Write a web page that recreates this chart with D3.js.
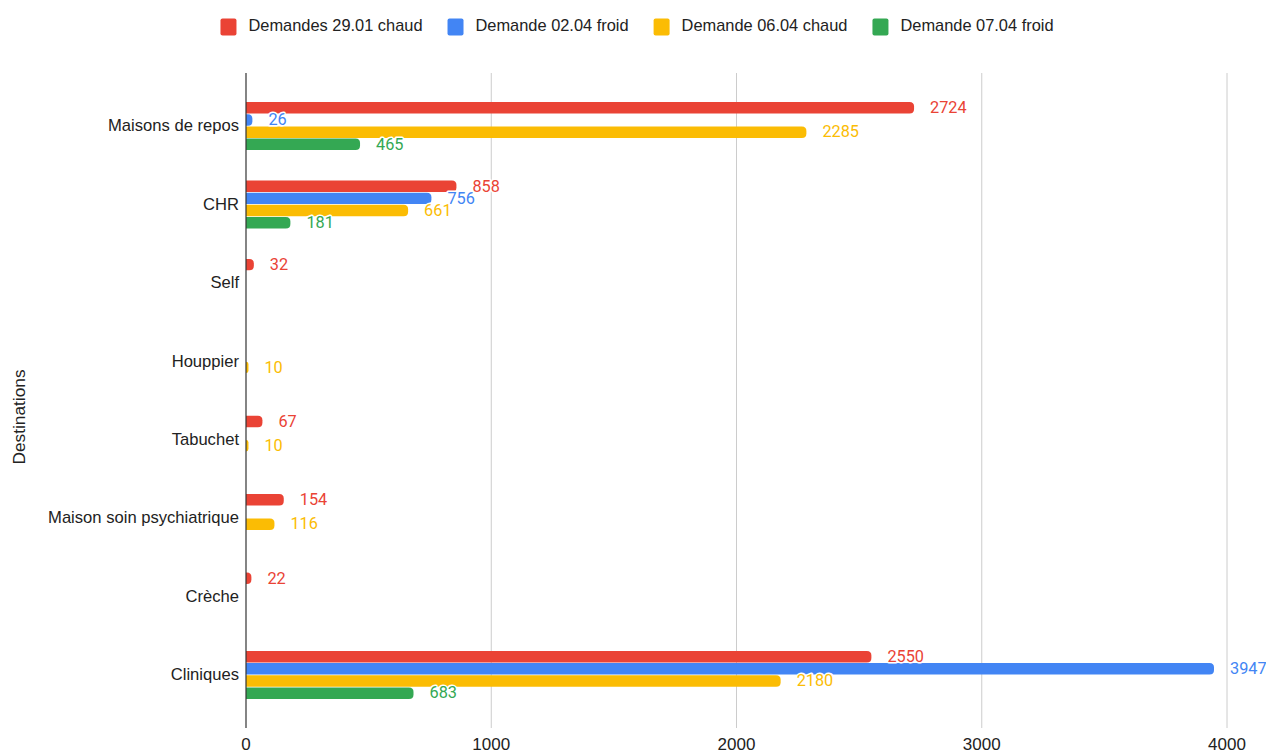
<!DOCTYPE html>
<html>
<head>
<meta charset="utf-8">
<script src="https://cdn.jsdelivr.net/npm/d3@7"></script>
<style>
  html, body { margin: 0; padding: 0; background: #fff; }
  svg { display: block; font-family: "Liberation Sans", Arial, sans-serif; }
  .value { font-family: Roboto, "Noto Sans", sans-serif; }
</style>
</head>
<body>
<svg id="chart" width="1266" height="755"></svg>
<script>
// Destinations and weekly demand series
const categories = ["Maisons de repos", "CHR", "Self", "Houppier", "Tabuchet",
                    "Maison soin psychiatrique", "Crèche", "Cliniques"];
const seriesNames = ["Demandes 29.01 chaud", "Demande 02.04 froid",
                     "Demande 06.04 chaud", "Demande 07.04 froid"];
const seriesColors = ["#EA4335", "#4285F4", "#FBBC04", "#34A853"];
const demand2901Chaud = [2724, 858, 32, null, 67, 154, 22, 2550];
const demand0204Froid = [26, 756, null, null, null, null, null, 3947];
const demand0604Chaud = [2285, 661, null, 10, 10, 116, null, 2180];
const demand0704Froid = [465, 181, null, null, null, null, null, 683];
const xTicks = [0, 1000, 2000, 3000, 4000];
const axisTitle = "Destinations";

const seriesValues = [demand2901Chaud, demand0204Froid, demand0604Chaud, demand0704Froid];

const svg = d3.select("#chart");
const plot = { left: 246, right: 1227, top: 73, bottom: 728 };

const x = d3.scaleLinear().domain([0, 4000]).range([plot.left, plot.right]);
const y = d3.scaleBand().domain(categories).range([plot.top, plot.bottom])
  .paddingInner(0.388).paddingOuter(0.371);
const ySub = d3.scaleBand().domain(d3.range(seriesNames.length))
  .range([0, y.bandwidth()]).paddingInner(0.06);

// Vertical gridlines
svg.append("g").selectAll("line").data(xTicks.filter(t => t > 0)).join("line")
  .attr("x1", d => x(d)).attr("x2", d => x(d))
  .attr("y1", plot.top).attr("y2", plot.bottom)
  .attr("stroke", "#cccccc").attr("stroke-width", 1);

// Tick labels along the bottom
svg.append("g").selectAll("text").data(xTicks).join("text")
  .attr("x", d => x(d)).attr("y", 746)
  .attr("text-anchor", "middle").attr("dominant-baseline", "middle")
  .attr("font-size", 17).attr("fill", "#222")
  .text(d => d);

// Bar shape: square at the baseline, rounded at the value end
function barPath(x0, x1, y0, h) {
  const w = x1 - x0;
  const r = Math.min(4.5, w, h / 2);
  return `M${x0},${y0}H${x1 - r}Q${x1},${y0} ${x1},${y0 + r}` +
         `V${y0 + h - r}Q${x1},${y0 + h} ${x1 - r},${y0 + h}H${x0}Z`;
}

const cells = [];
categories.forEach((c, ci) => {
  seriesValues.forEach((vals, si) => {
    if (vals[ci] != null) cells.push({ cat: c, s: si, v: vals[ci] });
  });
});

svg.append("g").selectAll("path").data(cells).join("path")
  .attr("d", d => barPath(x(0), x(d.v), y(d.cat) + ySub(d.s), ySub.bandwidth()))
  .attr("fill", d => seriesColors[d.s]);

// Value labels with a white halo
svg.append("g").selectAll("text").data(cells).join("text")
  .attr("class", "value")
  .attr("x", d => x(d.v) + 16)
  .attr("y", d => y(d.cat) + ySub(d.s) + ySub.bandwidth() / 2 + 1)
  .attr("dominant-baseline", "middle")
  .attr("font-size", 16.3)
  .attr("fill", d => seriesColors[d.s])
  .attr("stroke", "#fff").attr("stroke-width", 3).attr("stroke-linejoin", "round")
  .attr("paint-order", "stroke")
  .text(d => d.v);

// Baseline axis
svg.append("line")
  .attr("x1", x(0)).attr("x2", x(0)).attr("y1", plot.top).attr("y2", plot.bottom)
  .attr("stroke", "#333").attr("stroke-width", 1.2);

// Category labels
svg.append("g").selectAll("text").data(categories).join("text")
  .attr("x", 239).attr("y", d => y(d) + y.bandwidth() / 2 + 1)
  .attr("text-anchor", "end").attr("dominant-baseline", "middle")
  .attr("font-size", 16.6).attr("fill", "#222")
  .text(d => d);

// Axis title
svg.append("text")
  .attr("transform", "translate(20,417) rotate(-90)")
  .attr("text-anchor", "middle").attr("dominant-baseline", "middle")
  .attr("font-size", 17.3).attr("fill", "#222")
  .text(axisTitle);

// Legend across the top
const legend = svg.append("g");
const items = legend.selectAll("g").data(seriesNames).join("g");
items.append("rect").attr("width", 16).attr("height", 17).attr("y", -8.5).attr("rx", 2)
  .attr("fill", (d, i) => seriesColors[i]);
items.append("text").attr("x", 28).attr("dominant-baseline", "middle")
  .attr("font-size", 16.4).attr("fill", "#222").text(d => d);
let cursor = 0;
items.each(function () {
  const w = this.getBBox().width;
  d3.select(this).attr("transform", `translate(${cursor},27)`);
  cursor += w + 25;
});
const totalW = cursor - 25;
legend.attr("transform", `translate(${637 - totalW / 2},0)`);
</script>
</body>
</html>
